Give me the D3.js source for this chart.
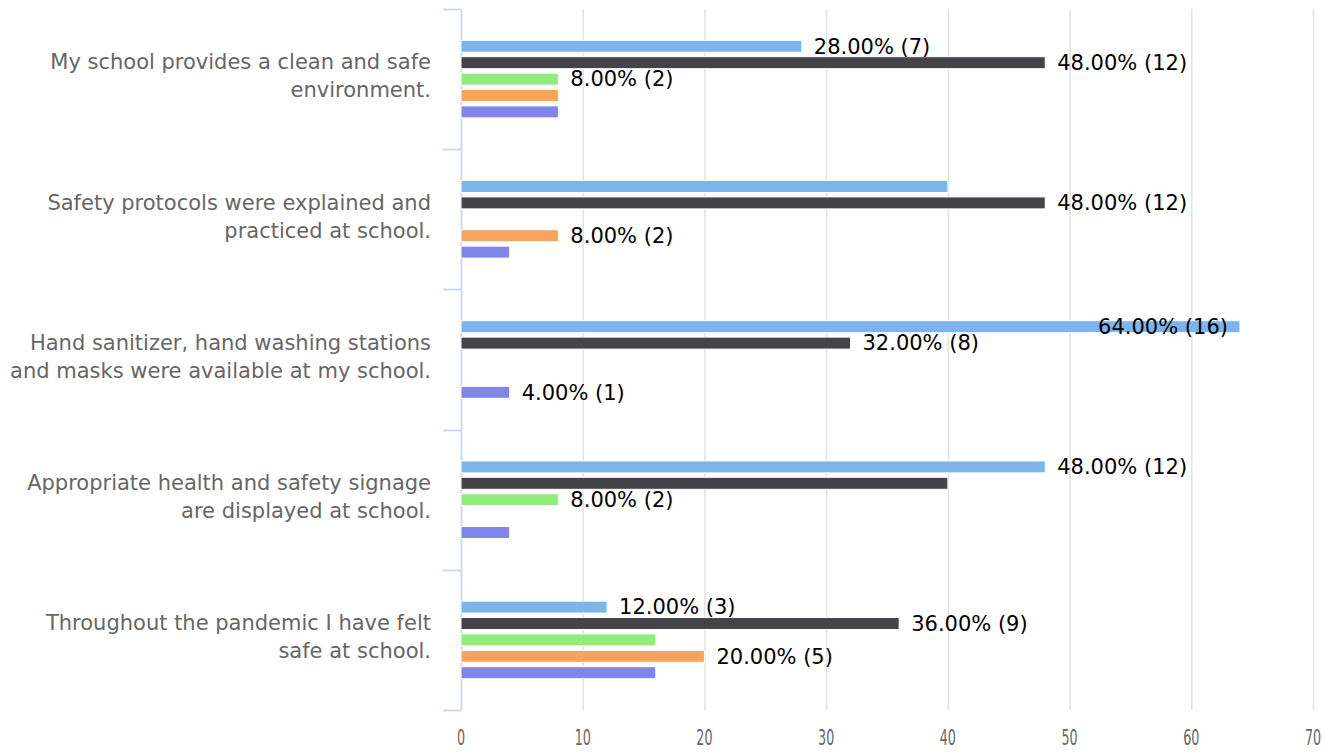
<!DOCTYPE html>
<html><head><meta charset="utf-8">
<script src="https://cdn.jsdelivr.net/npm/d3@7"></script>
<style>
html,body{margin:0;padding:0;background:#fff;}
svg{display:block;font-family:"DejaVu Sans",Verdana,sans-serif;}
</style></head>
<body><svg id="c" width="1325" height="752"></svg>
<script>
// ---- data ----
const categories = [
  "My school provides a clean and safe environment.",
  "Safety protocols were explained and practiced at school.",
  "Hand sanitizer, hand washing stations and masks were available at my school.",
  "Appropriate health and safety signage are displayed at school.",
  "Throughout the pandemic I have felt safe at school."
];
const seriesNames = ["Strongly Agree", "Agree", "Neutral", "Disagree", "Strongly Disagree"];
const countsStronglyAgree    = [7, 10, 16, 12, 3];
const countsAgree            = [12, 12, 8, 10, 9];
const countsNeutral          = [2, 0, 0, 2, 4];
const countsDisagree         = [2, 2, 0, 0, 5];
const countsStronglyDisagree = [2, 1, 1, 1, 4];
const respondents = 25;
const xTicks = [0, 10, 20, 30, 40, 50, 60, 70];
const colors = ["#7cb5ec", "#434348", "#90ed7d", "#f7a35c", "#8085e9"];

const seriesCounts = [countsStronglyAgree, countsAgree, countsNeutral, countsDisagree, countsStronglyDisagree];

// ---- layout ----
const W = 1325, H = 752;
const plot = {left: 461, right: 1313, top: 9, bottom: 710};
const svg = d3.select("#c");

const x = d3.scaleLinear().domain([0, 70]).range([plot.left, plot.right]);
const y = d3.scaleBand().domain(categories).range([plot.top, plot.bottom]);
const bw = y.bandwidth();
const inner = d3.scaleBand().domain(seriesNames)
  .range([bw/2 - 41, bw/2 + 41]).paddingInner(0.27).paddingOuter(0.135);

// gridlines
svg.append("g").selectAll("line").data(xTicks.slice(1)).join("line")
  .attr("x1", d => x(d) + 0.5).attr("x2", d => x(d) + 0.5)
  .attr("y1", plot.top).attr("y2", plot.bottom)
  .attr("stroke", "#e3e3e3").attr("stroke-width", 1.6);

// category axis (left)
const axisCol = "#ccd6eb";
const ax = svg.append("g");
ax.append("line").attr("x1", plot.left + 0.5).attr("x2", plot.left + 0.5)
  .attr("y1", plot.top).attr("y2", plot.bottom).attr("stroke", axisCol).attr("stroke-width", 1.8);
const bounds = categories.map(c => y(c)).concat([plot.bottom]);
ax.selectAll("line.t").data(bounds).join("line").attr("class", "t")
  .attr("x1", plot.left - 18).attr("x2", plot.left)
  .attr("y1", d => Math.round(d) + 0.5).attr("y2", d => Math.round(d) + 0.5)
  .attr("stroke", axisCol).attr("stroke-width", 1.8);

// category labels with wrapping
const catFont = "21px";
const maxW = 425;
categories.forEach(c => {
  const t = ax.append("text").attr("text-anchor", "end").attr("fill", "#666666")
    .attr("font-size", catFont).attr("x", plot.left - 30);
  const words = c.split(" ");
  let lines = [], cur = [];
  const probe = ax.append("text").attr("font-size", catFont);
  words.forEach(w => {
    const test = cur.concat([w]).join(" ");
    probe.text(test);
    if (probe.node().getComputedTextLength() > maxW && cur.length) { lines.push(cur.join(" ")); cur = [w]; }
    else cur.push(w);
  });
  lines.push(cur.join(" "));
  probe.remove();
  const lh = 28;
  const cy = y(c) + bw / 2 - 3;
  lines.forEach((l, i) => {
    t.append("tspan").attr("x", plot.left - 30)
      .attr("y", cy + (i - (lines.length - 1) / 2) * lh).attr("dy", "0.35em").text(l);
  });
});

// x tick labels
svg.append("g").selectAll("text").data(xTicks).join("text")
  .attr("transform", d => `translate(${x(d)},745) scale(0.62,1)`)
  .attr("text-anchor", "middle").attr("fill", "#666666").attr("font-size", "20.5px")
  .text(d => d);

// bars
const barsG = svg.append("g");
const labelData = [];
seriesCounts.forEach((counts, si) => {
  counts.forEach((cnt, ci) => {
    const pct = cnt / respondents * 100;
    const yy = y(categories[ci]) + inner(seriesNames[si]);
    if (cnt > 0) {
      barsG.append("rect").attr("x", x(0)).attr("y", yy)
        .attr("width", x(pct) - x(0)).attr("height", inner.bandwidth())
        .attr("fill", colors[si]).attr("stroke", "#ffffff").attr("stroke-width", 1);
      labelData.push({si, ci, pct, cnt, yc: yy + inner.bandwidth() / 2});
    }
  });
});

// data labels
const lg = svg.append("g");
labelData.forEach(d => {
  const t = lg.append("text").attr("font-size", "21px").attr("fill", "#000")
    .attr("dy", "0.35em").attr("y", d.yc)
    .text(`${d.pct.toFixed(2)}% (${d.cnt})`);
  const w = t.node().getComputedTextLength();
  let x0 = x(d.pct) + 12;
  if (x0 + w > plot.right) x0 = x(d.pct) - 12 - w;
  t.attr("x", x0);
  d.el = t; d.box = {x: x0, y: d.yc - 21, w: w, h: 42}; d.visible = true;
});
// hide overlapping labels (higher rank wins)
const sorted = labelData.slice().sort((a, b) => b.pct - a.pct);
for (let i = 0; i < sorted.length; i++) {
  for (let j = i + 1; j < sorted.length; j++) {
    const a = sorted[i], b = sorted[j];
    if (!a.visible || !b.visible) continue;
    const A = a.box, B = b.box;
    const hit = !(B.x >= A.x + A.w || B.x + B.w <= A.x || B.y >= A.y + A.h || B.y + B.h <= A.y);
    if (hit) b.visible = false;
  }
}
labelData.forEach(d => { if (!d.visible) d.el.remove(); });
</script></body></html>
